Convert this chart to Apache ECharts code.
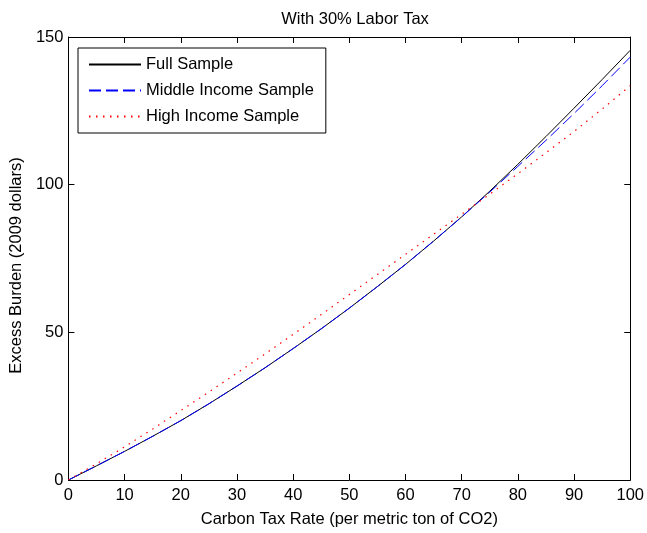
<!DOCTYPE html>
<html>
<head>
<meta charset="utf-8">
<script src="https://cdn.jsdelivr.net/npm/echarts@6/dist/echarts.min.js"></script>
<style>
  html, body { margin: 0; padding: 0; background: #fff; }
  #chart { width: 647px; height: 533px; }
</style>
</head>
<body>
<div id="chart"></div>
<script>
// Carbon tax rate ($ per metric ton of CO2)
const taxRate = [0, 5, 10, 15, 20, 25, 30, 35, 40, 45, 50, 55, 60, 65, 70, 75, 80, 85, 90, 95, 100];
// Excess burden (2009 dollars) by sample
const fullSample   = [0, 4.8, 9.7, 14.8, 20.1, 25.8, 31.8, 38.0, 44.5, 51.2, 58.2, 65.5, 73.0, 80.9, 89.1, 97.8, 106.9, 116.3, 125.9, 135.6, 145.5];
const middleIncome = [0, 4.8, 9.7, 14.8, 20.1, 25.8, 31.8, 38.0, 44.5, 51.2, 58.2, 65.5, 73.0, 80.9, 89.1, 97.5, 106.2, 115.0, 124.1, 133.5, 143.2];
const highIncome   = [0, 5.5, 11.2, 17.3, 23.5, 29.8, 36.2, 42.7, 49.3, 56.0, 62.8, 69.6, 76.4, 83.2, 90.0, 96.8, 103.7, 110.8, 118.0, 125.6, 133.5];
// Axis ranges and tick spacing
const xRange = [0, 100], xStep = 10;
const yRange = [0, 150], yStep = 50;

const FONT = '"Liberation Sans", Arial, sans-serif';
const FS = 16.5;
const pairs = ys => taxRate.map((x, i) => [x, ys[i]]);

const boxAxis = (extra) => Object.assign({
  type: 'value',
  axisLine: { show: true, onZero: false, lineStyle: { color: '#000', width: 1 } },
  axisTick: { show: true, inside: true, length: 6, lineStyle: { color: '#000', width: 1 } },
  splitLine: { show: false },
  axisLabel: { color: '#000', fontFamily: FONT, fontSize: FS }
}, extra);

const chart = echarts.init(document.getElementById('chart'), null, { renderer: 'canvas' });
chart.setOption({
  animation: false,
  backgroundColor: '#fff',
  title: {
    text: 'With 30% Labor Tax',
    left: 350, top: 6, textAlign: 'center',
    textStyle: { fontFamily: FONT, fontSize: FS, fontWeight: 'normal', color: '#000' }
  },
  grid: { left: 67, right: 14, top: 37, bottom: 50, containLabel: false },
  legend: {
    orient: 'vertical',
    left: 78, top: 48,
    padding: [8, 12, 8, 10],
    itemGap: 9,
    itemWidth: 52, itemHeight: 14,
    backgroundColor: '#fff',
    borderColor: '#000', borderWidth: 1, borderRadius: 0,
    itemStyle: { color: 'transparent', borderColor: 'transparent', borderWidth: 0 },
    textStyle: { fontFamily: FONT, fontSize: FS, color: '#000' },
    data: ['Full Sample', 'Middle Income Sample', 'High Income Sample']
  },
  xAxis: [
    boxAxis({
      min: xRange[0], max: xRange[1], interval: xStep, position: 'bottom',
      name: 'Carbon Tax Rate (per metric ton of CO2)', nameLocation: 'middle', nameGap: 31,
      nameTextStyle: { fontFamily: FONT, fontSize: FS, color: '#000' },
      axisLabel: { color: '#000', fontFamily: FONT, fontSize: FS, margin: 7 }
    }),
    boxAxis({
      min: xRange[0], max: xRange[1], interval: xStep, position: 'top',
      axisLabel: { show: false }
    })
  ],
  yAxis: [
    boxAxis({
      min: yRange[0], max: yRange[1], interval: yStep, position: 'left',
      name: 'Excess Burden (2009 dollars)', nameLocation: 'middle', nameGap: 33,
      nameTextStyle: { fontFamily: FONT, fontSize: FS, color: '#000', padding: [0, 14, 0, 0] },
      axisLabel: { color: '#000', fontFamily: FONT, fontSize: FS, margin: 5 }
    }),
    boxAxis({
      min: yRange[0], max: yRange[1], interval: yStep, position: 'right',
      axisLabel: { show: false }
    })
  ],
  series: [
    {
      name: 'Full Sample', type: 'line', xAxisIndex: 0, yAxisIndex: 0,
      data: pairs(fullSample), symbol: 'none', smooth: false,
      lineStyle: { color: '#000', width: 1, type: 'solid' }, itemStyle: { color: '#000' }, z: 3
    },
    {
      name: 'Middle Income Sample', type: 'line', xAxisIndex: 0, yAxisIndex: 0,
      data: pairs(middleIncome), symbol: 'none', smooth: false,
      lineStyle: { color: '#0000ff', width: 1, type: [12, 5] }, itemStyle: { color: '#0000ff' }, z: 4
    },
    {
      name: 'High Income Sample', type: 'line', xAxisIndex: 0, yAxisIndex: 0,
      data: pairs(highIncome), symbol: 'none', smooth: false,
      lineStyle: { color: '#ff0000', width: 1.2, type: [1.5, 5.5] }, itemStyle: { color: '#ff0000' }, z: 5
    }
  ]
});
</script>
</body>
</html>
